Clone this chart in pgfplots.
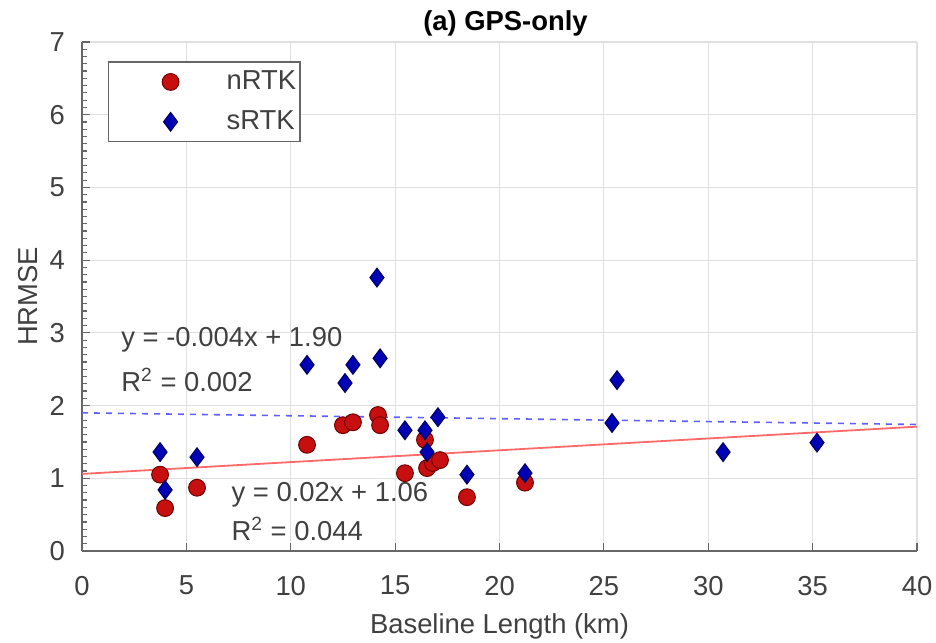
\documentclass[border=0pt]{standalone}
\usepackage{fontspec}
\setmainfont{Liberation Sans}
\usepackage{pgfplots}
\pgfplotsset{compat=1.18}
\definecolor{mred}{RGB}{200,15,15}
\definecolor{mredE}{RGB}{110,0,0}
\definecolor{mblue}{RGB}{0,0,180}
\definecolor{mblueE}{RGB}{0,0,90}
\definecolor{lred}{RGB}{255,105,105}
\definecolor{lblue}{RGB}{95,95,255}
\definecolor{txt}{RGB}{64,64,64}
\begin{document}
\begin{tikzpicture}
\begin{axis}[
  scale only axis,
  width=417.5pt, height=254.5pt,
  xmin=0, xmax=40, ymin=0, ymax=7,
  xtick={0,5,...,40}, ytick={0,1,...,7},
  minor y tick num=9,
  axis lines=left,
  axis line style={-, draw=black!60, line width=0.9pt},
  tick align=inside,
  major tick length=4pt, minor tick length=2.5pt,
  tick style={black!60, line width=0.6pt},
  grid=major,
  major grid style={black!12, line width=0.6pt},
  font=\fontsize{13.7}{16}\selectfont,
  tick label style={text=txt},
  /pgf/number format/assume math mode=true,
  xticklabel style={yshift=-9pt},
  yticklabel style={xshift=-5pt},
  xlabel={Baseline Length (km)},
  ylabel={HRMSE},
  label style={text=txt},
  xlabel style={yshift=-2pt},
  ylabel style={yshift=-1pt},
  title={\textbf{(a) GPS-only}},
  title style={yshift=-6.5pt, xshift=3pt},
  legend style={at={(0.031,0.962)}, anchor=north west, draw=black!60, line width=0.7pt,
     inner xsep=0pt, inner ysep=2.5pt, row sep=5pt, font=\fontsize{13.7}{16}\selectfont, text=txt},
  legend cell align=left,
  legend image code/.code={\path[draw=none] (0pt,0pt) -- (57pt,0pt); \draw[#1] plot coordinates {(31pt,0pt)};},
]
% fit lines (drawn first)
\addplot[forget plot, lblue, dashed, dash pattern=on 3pt off 3pt, line width=0.8pt] coordinates {(0,1.90) (40,1.74)};
\addplot[forget plot, lred, line width=0.9pt] coordinates {(0,1.06) (40,1.71)};
% nRTK
\addplot[only marks, mark=*, mark size=4.2pt, mark options={fill=mred, draw=mredE, line width=0.5pt}] coordinates {
(3.74,1.05) (3.98,0.59) (5.51,0.87) (10.78,1.46) (12.50,1.73) (12.98,1.77)
(14.18,1.87) (14.28,1.73) (15.47,1.07) (16.43,1.53) (16.53,1.14) (16.81,1.21)
(17.15,1.25) (18.44,0.74) (21.22,0.94)
};
% sRTK
\addplot[only marks, mark=diamond*, mark size=4.7pt, mark options={fill=mblue, draw=mblueE, line width=0.5pt}] coordinates {
(3.74,1.36) (3.98,0.84) (5.51,1.29) (10.78,2.56) (12.60,2.31) (12.98,2.56)
(14.13,3.76) (14.28,2.65) (15.47,1.66) (16.43,1.66) (16.53,1.36) (17.05,1.84)
(18.44,1.05) (21.22,1.07) (25.63,2.35) (25.39,1.76) (30.71,1.36) (35.21,1.49)
};
\legend{nRTK, sRTK}
\node[anchor=west, text=txt, inner sep=0pt] at (axis cs:1.87,2.90) {y = -0.004x + 1.90};
\node[anchor=west, text=txt, inner sep=0pt] at (axis cs:1.87,2.35) {R\textsuperscript{2} = 0.002};
\node[anchor=west, text=txt, inner sep=0pt] at (axis cs:7.15,0.78) {y = 0.02x + 1.06};
\node[anchor=west, text=txt, inner sep=0pt] at (axis cs:7.15,0.30) {R\textsuperscript{2} = 0.044};
\end{axis}
\pgfresetboundingbox
\path ([shift={(-41pt,-45.5pt)}]current axis.south west) rectangle ([shift={(9.5pt,21pt)}]current axis.north east);
\end{tikzpicture}
\end{document}
